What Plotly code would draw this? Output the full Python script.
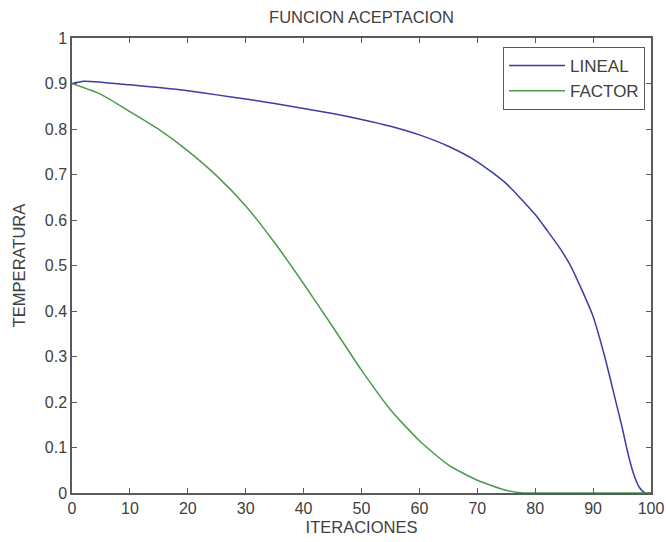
import plotly.graph_objects as go

# Data
x_lineal = [0, 2, 5, 10, 15, 20, 25, 30, 35, 40, 45, 50, 55, 60, 65, 70, 75, 80, 82, 84,
            86, 88, 90, 92, 94, 95, 96, 97, 98, 99, 100]
y_lineal = [0.900, 0.905, 0.903, 0.897, 0.891, 0.884, 0.875, 0.866, 0.856, 0.845, 0.834,
            0.821, 0.806, 0.787, 0.762, 0.728, 0.680, 0.612, 0.578, 0.543, 0.502, 0.448,
            0.388, 0.300, 0.197, 0.145, 0.088, 0.042, 0.012, 0.0, 0.0]

x_factor = [0, 5, 10, 15, 20, 25, 30, 35, 40, 45, 50, 55, 60, 65, 70, 75, 78, 80, 85, 90, 95, 100]
y_factor = [0.900, 0.876, 0.838, 0.799, 0.752, 0.697, 0.631, 0.550, 0.460, 0.366, 0.270,
            0.183, 0.115, 0.062, 0.028, 0.006, 0.0, 0.0, 0.0, 0.0, 0.0, 0.0]

x_ticks = [0, 10, 20, 30, 40, 50, 60, 70, 80, 90, 100]
y_ticks = [0, 0.1, 0.2, 0.3, 0.4, 0.5, 0.6, 0.7, 0.8, 0.9, 1]
y_ticklabels = ["0", "0.1", "0.2", "0.3", "0.4", "0.5", "0.6", "0.7", "0.8", "0.9", "1"]

FONT = "Liberation Sans, Arial, sans-serif"
TXT = "#404040"
AX = "#5a5a5a"
FS = 16

fig = go.Figure()
fig.add_trace(go.Scatter(x=x_lineal, y=y_lineal, mode="lines", name="LINEAL",
                         line=dict(color="#3c3ca6", width=1.5, shape="spline", smoothing=0.6)))
fig.add_trace(go.Scatter(x=x_factor, y=y_factor, mode="lines", name="FACTOR",
                         line=dict(color="#4c9a4c", width=1.5, shape="spline", smoothing=0.6)))

W, H = 666, 542
L, R, T, B = 72, 15, 38, 49
pw = W - L - R
ph = H - T - B

fig.update_layout(
    width=W, height=H,
    margin=dict(l=L, r=R, t=T, b=B, pad=0, autoexpand=False),
    paper_bgcolor="white", plot_bgcolor="white",
    font=dict(family=FONT, size=FS, color=TXT),
    title=dict(text="FUNCION ACEPTACION", x=(L + pw / 2) / W, xanchor="center",
               y=1 - 17 / H, yanchor="middle", font=dict(size=16.5, color=TXT)),
    showlegend=True,
    legend=dict(x=(645 - L) / pw, xanchor="right", y=(H - B - 47) / ph, yanchor="top",
                bgcolor="white", bordercolor=AX, borderwidth=1,
                font=dict(size=17, color=TXT), itemwidth=56,
                tracegroupgap=0),
    xaxis=dict(range=[0, 100], tickvals=x_ticks, ticks="inside", ticklen=5,
               tickcolor=AX, showline=True, linecolor=AX, linewidth=1.5,
               mirror="ticks", showgrid=False, zeroline=False, automargin=False,
               tickfont=dict(size=FS, color=TXT),
               title=dict(text="ITERACIONES", font=dict(size=16.5, color=TXT), standoff=5)),
    yaxis=dict(range=[0, 1], tickvals=y_ticks, ticktext=y_ticklabels, ticks="inside",
               ticklen=5, tickcolor=AX, showline=True, linecolor=AX, linewidth=1.5,
               mirror="ticks", showgrid=False, zeroline=False, automargin=False,
               tickfont=dict(size=FS, color=TXT),
               title=dict(text="TEMPERATURA", font=dict(size=16.5, color=TXT), standoff=15)),
)

fig.write_html("out.html")
